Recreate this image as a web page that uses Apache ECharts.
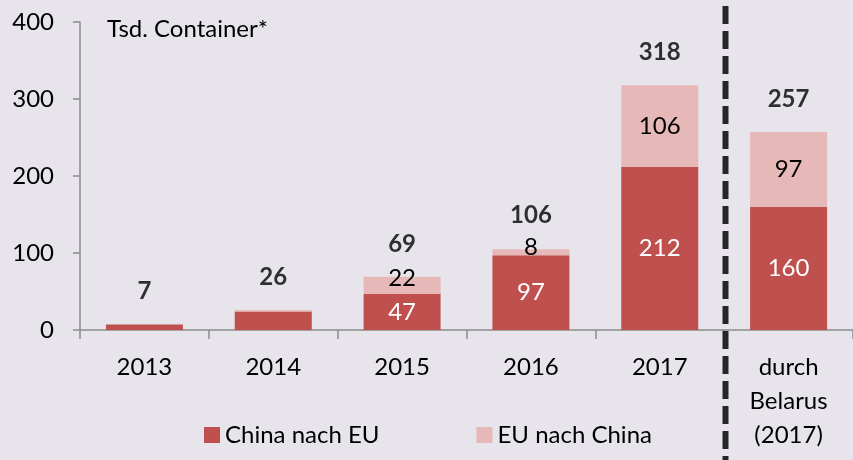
<!DOCTYPE html>
<html>
<head>
<meta charset="utf-8">
<script src="https://cdn.jsdelivr.net/npm/echarts@6/dist/echarts.min.js"></script>
<style>
html,body{margin:0;padding:0;background:#E7E4EB;}
#chart{width:853px;height:460px;}
</style>
</head>
<body>
<div id="chart"></div>
<script>
const categories = ['2013', '2014', '2015', '2016', '2017', 'durch\nBelarus\n(2017)'];
const chinaNachEU = [7, 24, 47, 97, 212, 160];
const euNachChina = [0, 2, 22, 8, 106, 97];
const totals = [7, 26, 69, 106, 318, 257];
const yTicks = [0, 100, 200, 300, 400];

const FONT = 'Lato, "Open Sans", sans-serif';
const FS = 24;
const DARK = '#C0504D';
const LIGHT = '#E6B9B8';

const chart = echarts.init(document.getElementById('chart'));

const darkData = chinaNachEU.map((v, i) => ({
  value: v,
  label: { show: i >= 2 }
}));
const lightOffsets = { 2: { position: 'inside', offset: [0, -7] }, 3: { position: 'top', distance: 0, offset: [0, 10] } };
const lightData = euNachChina.map((v, i) => {
  const extra = lightOffsets[i] || {};
  return { value: v, label: Object.assign({ show: i >= 2 }, extra) };
});

chart.setOption({
  backgroundColor: '#E7E4EB',
  animation: false,
  textStyle: { fontFamily: FONT },
  grid: { left: 80, right: -6, top: 22, bottom: 130, containLabel: false },
  legend: {
    data: ['China nach EU', 'EU nach China'],
    left: 199,
    top: 418,
    icon: 'rect',
    itemWidth: 16,
    itemHeight: 16,
    itemGap: 97,
    textStyle: { fontSize: FS, color: '#000', fontFamily: FONT }
  },
  xAxis: {
    type: 'category',
    data: categories,
    axisLine: { lineStyle: { color: '#8C8C8C', width: 1.5 } },
    axisTick: { show: true, length: 9, lineStyle: { color: '#8C8C8C', width: 1.5 } },
    axisLabel: { fontSize: FS, color: '#000', margin: 20, lineHeight: 34, fontFamily: FONT, interval: 0 }
  },
  yAxis: {
    type: 'value',
    min: yTicks[0],
    max: yTicks[yTicks.length - 1],
    interval: 100,
    splitLine: { show: false },
    axisLine: { show: true, lineStyle: { color: '#8C8C8C', width: 1.5 } },
    axisTick: { show: true, length: 7, lineStyle: { color: '#8C8C8C', width: 1.5 } },
    axisLabel: { fontSize: FS, color: '#000', margin: 26, fontFamily: FONT }
  },
  series: [
    {
      name: 'China nach EU',
      type: 'bar',
      stack: 'total',
      barWidth: 77,
      itemStyle: { color: DARK },
      label: { show: true, position: 'inside', color: '#fff', fontSize: FS, fontFamily: FONT },
      data: darkData
    },
    {
      name: 'EU nach China',
      type: 'bar',
      stack: 'total',
      barWidth: 77,
      itemStyle: { color: LIGHT },
      label: { show: true, position: 'inside', color: '#000', fontSize: FS, fontFamily: FONT },
      data: lightData
    },
    {
      name: 'Summe',
      type: 'scatter',
      symbolSize: 0,
      silent: true,
      label: { show: true, position: 'top', distance: 21, color: '#000', fontSize: FS, fontWeight: 'bold', fontFamily: FONT },
      data: totals
    }
  ],
  graphic: [
    {
      type: 'text',
      left: 107,
      top: 17,
      style: { text: 'Tsd. Container*', fontSize: FS, fill: '#000', fontFamily: FONT }
    },
    {
      type: 'line',
      shape: { x1: 725.5, y1: 6, x2: 725.5, y2: 460 },
      style: { stroke: '#262626', lineWidth: 6, lineDash: [18, 7] },
      z: 10
    }
  ]
});
</script>
</body>
</html>
